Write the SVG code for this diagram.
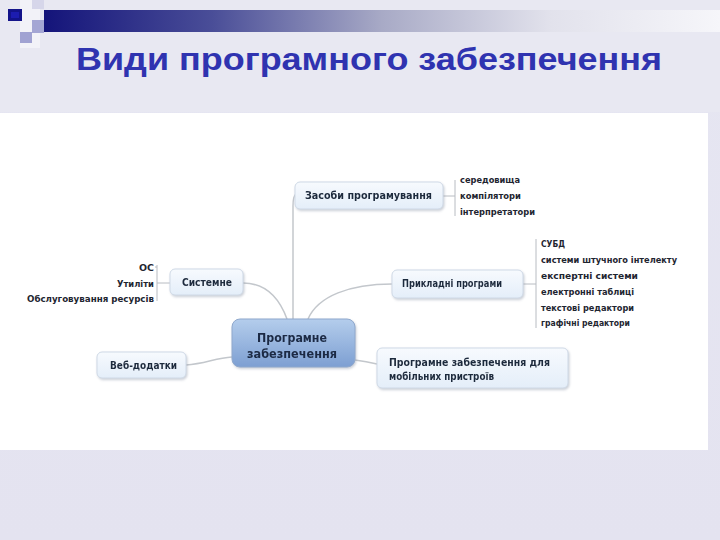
<svg xmlns="http://www.w3.org/2000/svg" width="720" height="540" viewBox="0 0 720 540">
<defs>
<linearGradient id="bg" x1="0" y1="0" x2="0" y2="1">
<stop offset="0" stop-color="#e6e6f2"/>
<stop offset="1" stop-color="#e4e3f0"/>
</linearGradient>
<linearGradient id="bar" x1="0" y1="0" x2="1" y2="0">
<stop offset="0" stop-color="#14147a"/>
<stop offset="0.25" stop-color="#4a4e98"/>
<stop offset="0.5" stop-color="#a8aac6"/>
<stop offset="0.75" stop-color="#e2e2ec"/>
<stop offset="1" stop-color="#f6f6fa"/>
</linearGradient>
<linearGradient id="central" x1="0" y1="0" x2="0" y2="1">
<stop offset="0" stop-color="#b4cdec"/>
<stop offset="1" stop-color="#7d9fd2"/>
</linearGradient>
<linearGradient id="topic" x1="0" y1="0" x2="0" y2="1">
<stop offset="0" stop-color="#f7fafe"/>
<stop offset="1" stop-color="#e4eef9"/>
</linearGradient>
<filter id="sh" x="-10%" y="-20%" width="120%" height="150%">
<feDropShadow dx="1" dy="1.5" stdDeviation="1.2" flood-color="#8a94a6" flood-opacity="0.45"/>
</filter>
</defs>
<style>
.title{font-family:"Liberation Sans",Arial,sans-serif;font-weight:bold;font-size:32px;fill:#2f33b0}
.topic rect{fill:url(#topic);stroke:#cfd9e6;stroke-width:1}
.central rect{fill:url(#central);stroke:#8fa8cc;stroke-width:1}
.t{font-family:"DejaVu Sans","Liberation Sans",sans-serif;font-weight:bold;font-size:10px;fill:#1e2a3c}
.ct{font-family:"DejaVu Sans","Liberation Sans",sans-serif;font-weight:bold;font-size:13px;fill:#1c2a44}
.s{font-family:"DejaVu Sans","Liberation Sans",sans-serif;font-weight:bold;font-size:9px;fill:#1e2530}
.conn path{fill:none;stroke:#c3c7cc;stroke-width:1.5}
.conn .br{stroke:#b8bcc2;stroke-width:1}
</style>

<rect width="720" height="540" fill="url(#bg)"/>
<rect x="0" y="0" width="720" height="112" fill="#e8e8f2"/>
<!-- decoration -->
<rect x="20" y="0" width="20" height="48" fill="#f2f2f8"/>
<rect x="32" y="0" width="12" height="9" fill="#d6d6ea"/>
<rect x="44" y="10" width="676" height="22" fill="url(#bar)"/>
<rect x="32" y="20" width="12" height="13" fill="#a4a6d4"/>
<rect x="20" y="32" width="12" height="11" fill="#a0a2d2"/>
<rect x="8" y="9" width="14" height="12" fill="#13138a"/>
<rect x="11" y="12" width="8" height="6" fill="#1c1cb0"/>
<text class="title" x="76" y="70" textLength="586" lengthAdjust="spacingAndGlyphs">Види програмного забезпечення</text>

<!-- white panel -->
<rect x="0" y="113" width="708" height="337" fill="#ffffff"/>

<g class="conn" id="connectors">
<path d="M296 194 Q293 196 293 206 L293 319"/>
<path d="M308 319 C318 296 350 284 392 284"/>
<path d="M243 283 C268 283 280 300 287 319"/>
<path d="M186 365 C205 364 215 358 232 357"/>
<path d="M355 360 C362 361 368 362 377 364"/>
<path class="br" d="M443 196 L455 196 M455 180 L455 216"/>
<path class="br" d="M523 284 L536 284 M536 239 L536 328"/>
<path class="br" d="M170 283 L157 283 M157 265 L157 301 M157 267 L155 267"/>
</g>

<g id="central" class="central" filter="url(#sh)">
<rect x="232" y="319" width="123" height="48" rx="8"/>
<text class="ct" x="257" y="342" textLength="70" lengthAdjust="spacingAndGlyphs">Програмне</text>
<text class="ct" x="247" y="358" textLength="90" lengthAdjust="spacingAndGlyphs">забезпечення</text>
</g>

<g id="zasoby" class="topic" filter="url(#sh)">
<rect x="295" y="182" width="148" height="27" rx="5"/>
<text class="t" x="305" y="199" textLength="127" lengthAdjust="spacingAndGlyphs">Засоби програмування</text>
</g>
<g id="zasoby-items">
<text class="s" x="460" y="183" textLength="60" lengthAdjust="spacingAndGlyphs">середовища</text>
<text class="s" x="460" y="199" textLength="61" lengthAdjust="spacingAndGlyphs">компілятори</text>
<text class="s" x="460" y="215" textLength="75" lengthAdjust="spacingAndGlyphs">інтерпретатори</text>
</g>

<g id="prykladni" class="topic" filter="url(#sh)">
<rect x="392" y="270" width="131" height="28" rx="5"/>
<text class="t" x="402" y="287" textLength="100" lengthAdjust="spacingAndGlyphs">Прикладні програми</text>
</g>
<g id="prykladni-items">
<text class="s" x="541" y="247" textLength="24" lengthAdjust="spacingAndGlyphs">СУБД</text>
<text class="s" x="541" y="263" textLength="136" lengthAdjust="spacingAndGlyphs">системи штучного інтелекту</text>
<text class="s" x="541" y="279" textLength="97" lengthAdjust="spacingAndGlyphs">експертні системи</text>
<text class="s" x="541" y="295" textLength="93" lengthAdjust="spacingAndGlyphs">електронні таблиці</text>
<text class="s" x="541" y="311" textLength="93" lengthAdjust="spacingAndGlyphs">текстові редактори</text>
<text class="s" x="541" y="326" textLength="89" lengthAdjust="spacingAndGlyphs">графічні редактори</text>
</g>

<g id="systemne" class="topic" filter="url(#sh)">
<rect x="170" y="269" width="73" height="26" rx="5"/>
<text class="t" x="182" y="286" textLength="50" lengthAdjust="spacingAndGlyphs">Системне</text>
</g>
<g id="systemne-items">
<text class="s" x="139" y="271" textLength="15" lengthAdjust="spacingAndGlyphs">ОС</text>
<text class="s" x="117" y="287" textLength="37" lengthAdjust="spacingAndGlyphs">Утиліти</text>
<text class="s" x="27" y="302" textLength="127" lengthAdjust="spacingAndGlyphs">Обслуговування ресурсів</text>
</g>

<g id="veb" class="topic" filter="url(#sh)">
<rect x="97" y="352" width="89" height="26" rx="5"/>
<text class="t" x="110" y="369" textLength="67" lengthAdjust="spacingAndGlyphs">Веб-додатки</text>
</g>

<g id="mobile" class="topic" filter="url(#sh)">
<rect x="377" y="348" width="191" height="40" rx="5"/>
<text class="t" x="389" y="366" textLength="161" lengthAdjust="spacingAndGlyphs">Програмне забезпечення для</text>
<text class="t" x="389" y="380" textLength="105" lengthAdjust="spacingAndGlyphs">мобільних пристроїв</text>
</g>
</svg>
